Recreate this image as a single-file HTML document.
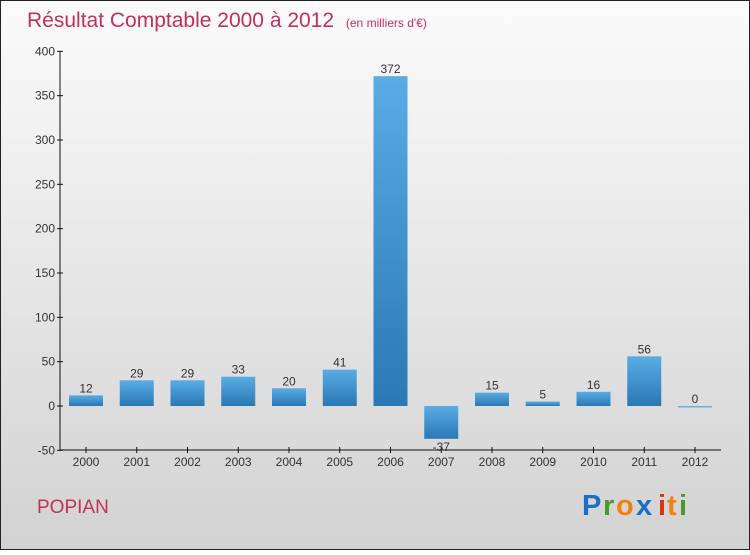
<!DOCTYPE html>
<html><head><meta charset="utf-8"><style>
body{margin:0;width:750px;height:550px;overflow:hidden;font-family:"Liberation Sans",sans-serif}
</style></head><body>
<svg width="750" height="550" xmlns="http://www.w3.org/2000/svg">
<defs>
<linearGradient id="bg" x1="0" y1="0" x2="0" y2="1"><stop offset="0" stop-color="#fbfbfb"/><stop offset="1" stop-color="#d2d2d2"/></linearGradient>
<linearGradient id="bar" x1="0" y1="0" x2="0" y2="1"><stop offset="0" stop-color="#5aace4"/><stop offset="1" stop-color="#2a78b4"/></linearGradient>
</defs>
<rect x="0.5" y="0.5" width="749" height="549" fill="url(#bg)" stroke="#222"/>
<text x="27" y="27" font-size="21" fill="#c0305a">Résultat Comptable 2000 à 2012 <tspan font-size="12" dx="6">(en milliers d'€)</tspan></text>
<g id="axes"></g>
<g id="bars"></g>
<text x="37" y="513" font-size="19" fill="#c0305a">POPIAN</text>
<g font-size="29" font-weight="bold">
<text x="582" y="515" fill="#1a6fc4">P</text><text x="603" y="515" fill="#4a9a2a">r</text><text x="616" y="515" fill="#f08010">o</text><text x="636" y="515" fill="#1a6fc4">x</text><text x="658" y="515" fill="#e03010">i</text><text x="667" y="515" fill="#f08010">t</text><text x="679" y="515" fill="#4a9a2a">i</text>
</g>
</svg>
<script>
const categories=["2000","2001","2002","2003","2004","2005","2006","2007","2008","2009","2010","2011","2012"];
const values=[12,29,29,33,20,41,372,-37,15,5,16,56,0];
const yTicks=[-50,0,50,100,150,200,250,300,350,400];
const NS="http://www.w3.org/2000/svg";
const y=v=>406-v*(399/450);
const x=i=>86+i*50.75;
function mk(t,a,p){const e=document.createElementNS(NS,t);for(const k in a)e.setAttribute(k,a[k]);p.appendChild(e);return e;}
const ax=document.getElementById('axes'),bs=document.getElementById('bars');
let yl=mk('line',{x1:60,x2:60,y1:51,y2:450,stroke:'#111'},ax);


let xl=mk('line',{x1:60,x2:721,y1:450,y2:450,stroke:'#111'},ax);


yTicks.forEach(v=>{
 mk('line',{x1:57,x2:63,y1:y(v),y2:y(v),stroke:'#111'},ax);
 const t=mk('text',{x:55,y:y(v)+4,'text-anchor':'end','font-size':12,fill:'#333'},ax);
 t.textContent=v;
 
 
});
categories.forEach((c,i)=>{
 mk('line',{x1:x(i),x2:x(i),y1:447,y2:453,stroke:'#111'},ax);
 const t=mk('text',{x:x(i),y:466,'text-anchor':'middle','font-size':12,fill:'#333'},ax);
 t.textContent=c;
 
 
 const v=values[i];
 const top=Math.min(y(v),y(0)),h=Math.max(Math.abs(y(v)-y(0)),1.5);
 const r=mk('rect',{x:x(i)-17,y:top,width:34,height:h,fill:v===0?'#6aaee0':'url(#bar)'},bs);
 
 
 const l=mk('text',{x:x(i),y:v>=0?top-3:top+h+12,'text-anchor':'middle','font-size':12,fill:'#333'},bs);
 l.textContent=v;
 
 
});
</script>
</body></html>
